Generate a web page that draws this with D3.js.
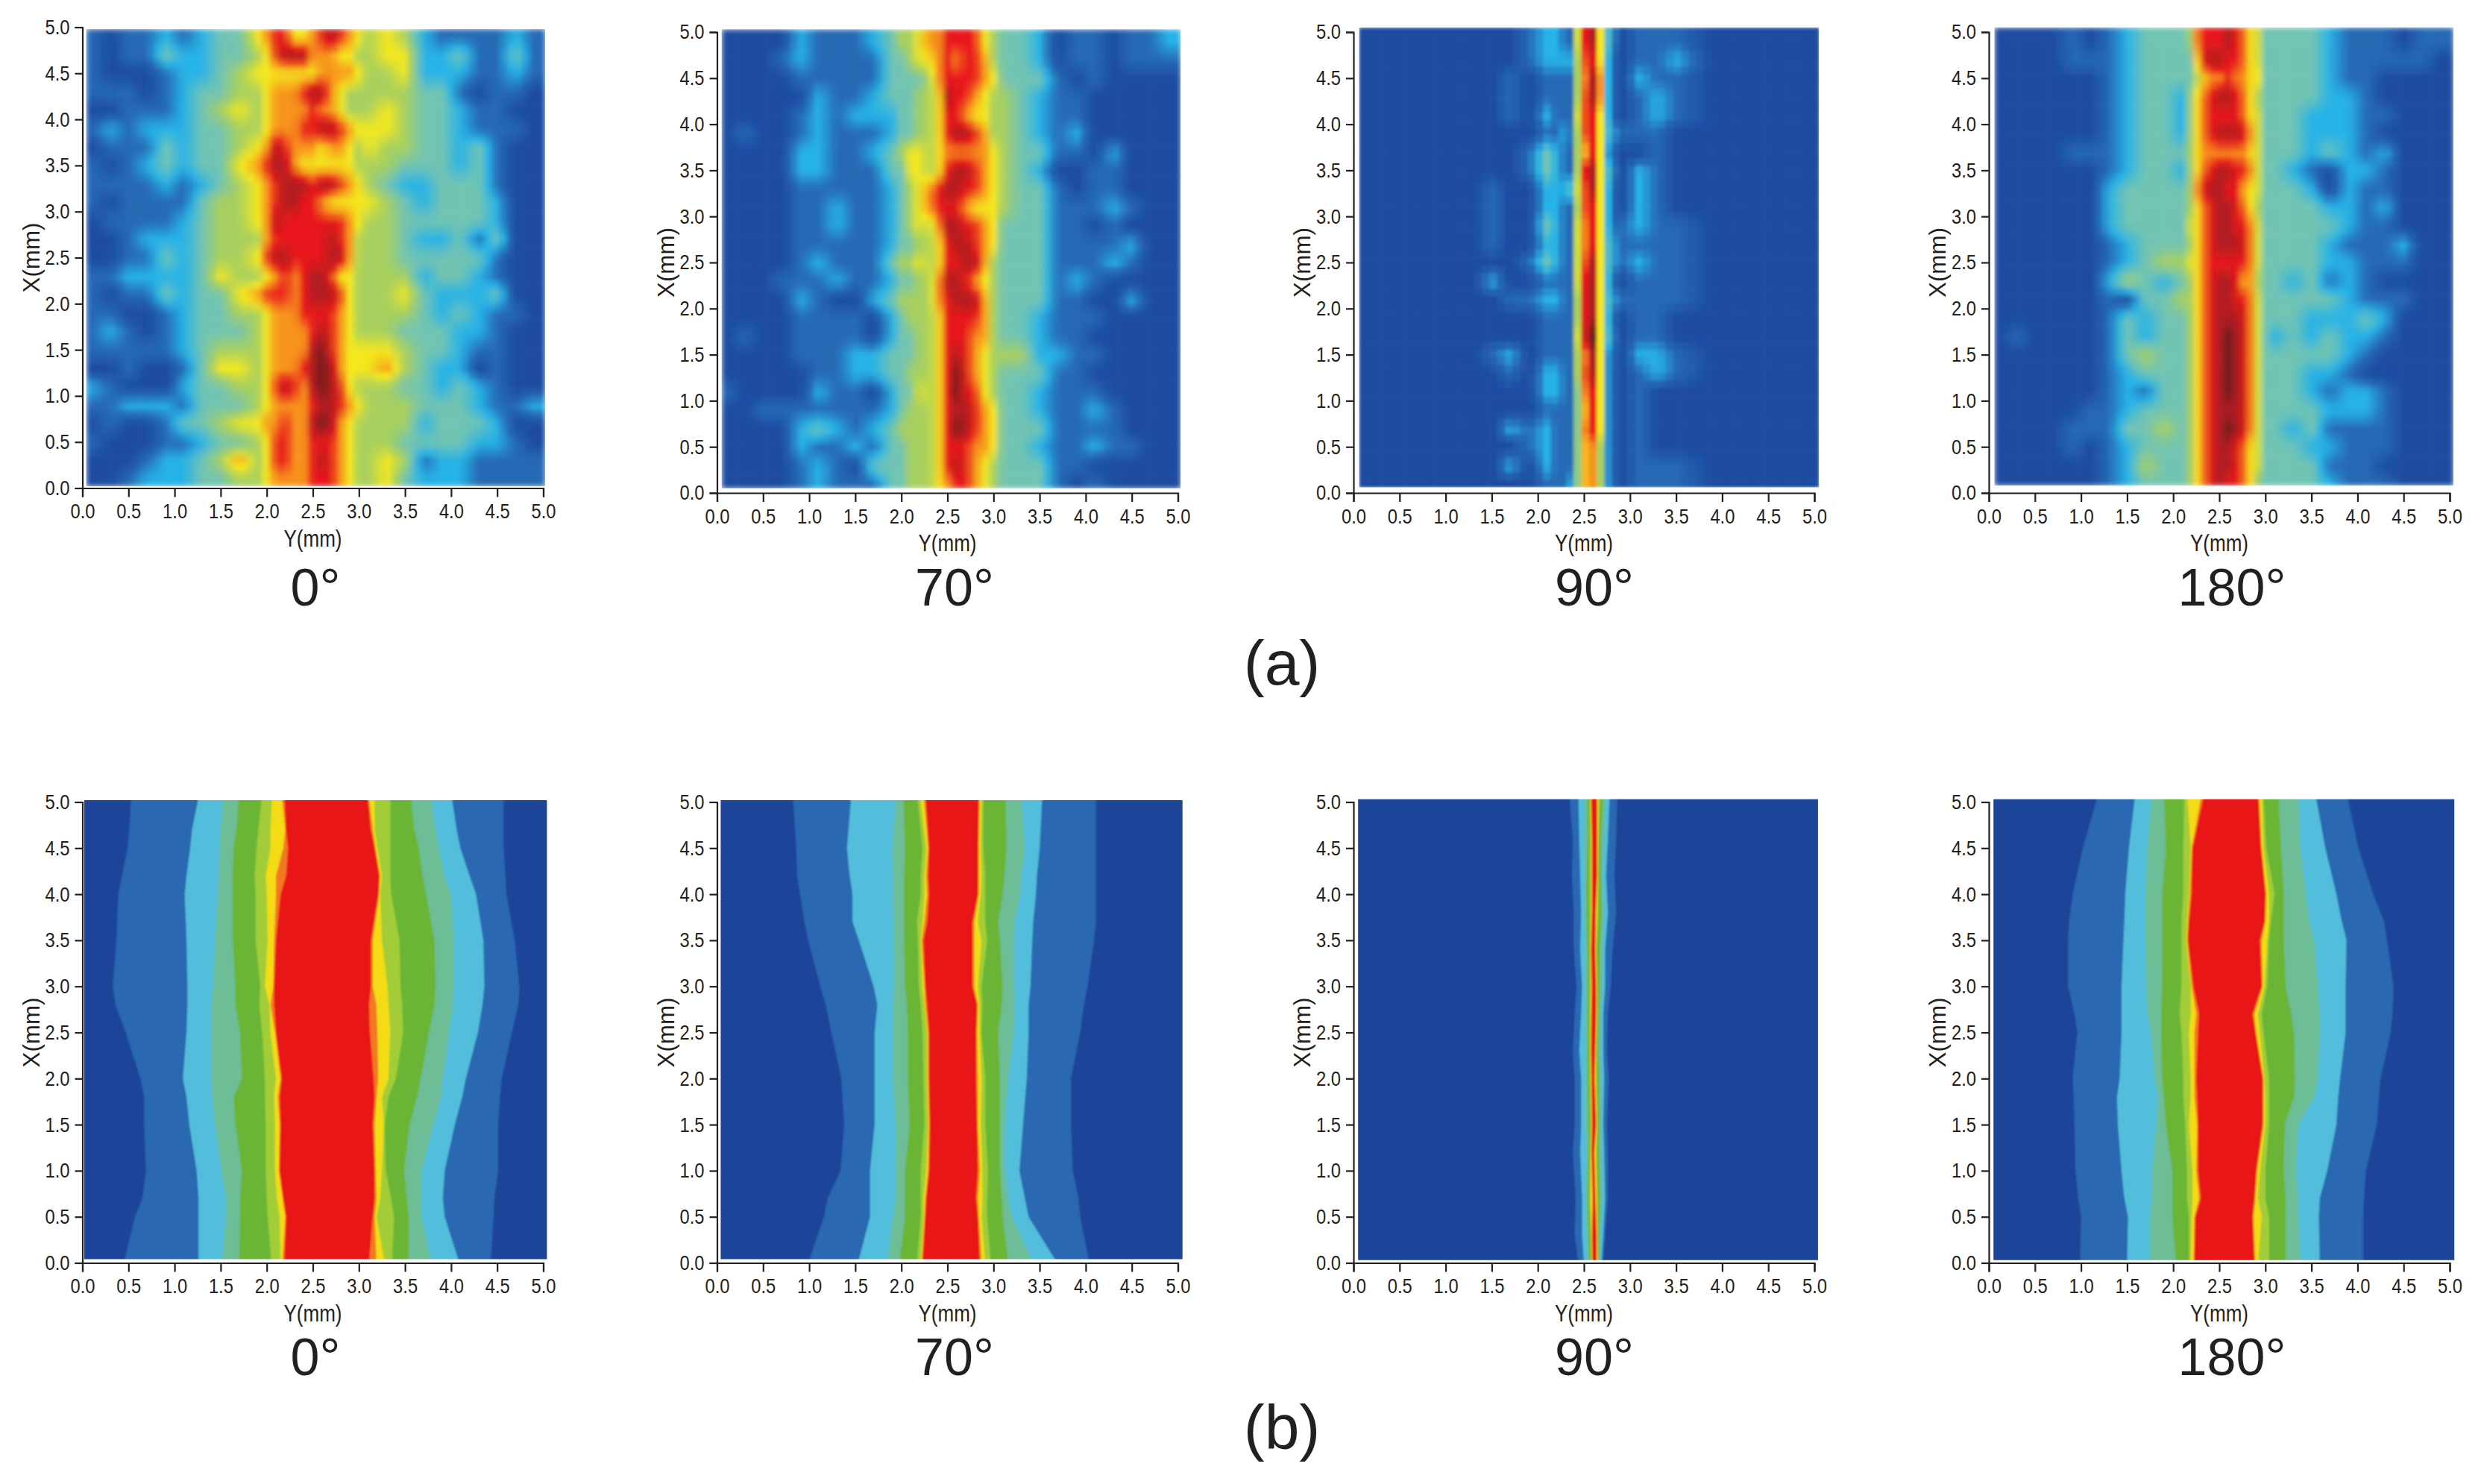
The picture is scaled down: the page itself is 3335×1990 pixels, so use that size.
<!DOCTYPE html>
<html lang="en">
<head>
<meta charset="UTF-8">
<title>Heat maps at 0, 70, 90 and 180 degrees</title>
<script src="https://d3js.org/d3.v7.min.js"></script>
<style>
  html, body { margin: 0; background: #fff; }
  text { fill: #231f20; font-family: "Liberation Sans", Arial, sans-serif; }
  .axis text { font-size: 28px; }
  .axis path, .axis line { stroke: #231f20; stroke-width: 2.2px; }
  .axis-title { font-size: 31px; text-anchor: middle; }
  .angle { font-size: 70px; text-anchor: middle; }
  .tag { font-size: 84px; text-anchor: middle; }
</style>
</head>
<body>
<svg id="chart" width="3335" height="1990"></svg>

<script>
const tickLabels = [0, 0.5, 1, 1.5, 2, 2.5, 3, 3.5, 4, 4.5, 5];
const angleLabels = ["0°", "70°", "90°", "180°"];
const rowTags = ["(a)", "(b)"];

// colour levels of the measured maps
const levels = [0, 1, 2, 3, 4, 5, 6, 7, 8, 9];
const levelColours = ["#1d4ba0", "#2569b4", "#28b3e7", "#72c4b2", "#a8d05e", "#f4e81f", "#f7941d", "#e8191c", "#b01b20", "#6a1a1e"];

// X value of every map row, top to bottom
const heatRowsX = [4.9, 4.7, 4.5, 4.3, 4.1, 3.9, 3.7, 3.5, 3.3, 3.1, 2.9, 2.7, 2.5, 2.3, 2.1, 1.9, 1.7, 1.5, 1.3, 1.1, 0.9, 0.7, 0.5, 0.3, 0.1];

// Y value of every map column (finer through the hot band)
const heatCols = [0.1, 0.3, 0.5, 0.7, 0.9, 1.1, 1.3, 1.5, 1.7, 1.9, 2.0, 2.1, 2.2, 2.3, 2.4, 2.5, 2.6, 2.7, 2.8, 2.9, 3.0, 3.1, 3.3, 3.5, 3.7, 3.9, 4.1, 4.3, 4.5, 4.7, 4.9];
const heatCols90 = [0.1, 0.5, 0.9, 1.3, 1.5, 1.7, 1.9, 2.1, 2.2, 2.3, 2.37, 2.41, 2.45, 2.49, 2.53, 2.6, 2.64, 2.68, 2.73, 2.8, 2.9, 3.1, 3.3, 3.5, 3.9, 4.3, 4.9];
const heatCols180 = [0.1, 0.3, 0.5, 0.7, 0.9, 1.1, 1.3, 1.5, 1.7, 1.9, 2.1, 2.2, 2.25, 2.3, 2.4, 2.5, 2.6, 2.7, 2.8, 2.85, 2.9, 2.95, 3.0, 3.1, 3.3, 3.5, 3.7, 3.9, 4.1, 4.3, 4.5, 4.7, 4.9];

const heat0 = [
  "1011212335 67755678765 4542111121",
  "1011322334 57888666554 4552231131",
  "1000122345 55555566665 4452221121",
  "1110123344 56667886544 4443310110",
  "0011123454 56666766544 4543321100",
  "1212223344 56667788765 5543321110",
  "0111323345 68766656654 5443323100",
  "1012323356 78865555554 4433323100",
  "1111212345 67888788765 4322333100",
  "1011113445 67887765555 5432333200",
  "0111123445 68777777765 4433333200",
  "0012223444 67777778764 4432231300",
  "0011323445 78877778864 4433333100",
  "1122223544 56767887554 4442332100",
  "1011323356 77767888754 4453222300",
  "1100123344 56667777654 4443232110",
  "1210123334 56666787654 4433322100",
  "1111123444 56666897655 5543321100",
  "0010013554 56667898655 5643220100",
  "2100023344 57876898754 4433232100",
  "1122213334 56666788765 4443332112",
  "0100133455 66766898654 4442333200",
  "1000112334 57766777654 4433332210",
  "0001223464 57766787654 4541221111",
  "0012223344 56666777654 4532221111"
];

const heat70 = [
  "0000211123 44566777754 3320110112",
  "0001211113 34556767764 3320110111",
  "0000111113 33346777765 3331010000",
  "0000021123 33445877654 4321100000",
  "0000121222 33445776554 4321100000",
  "0100121112 33445788764 4321200000",
  "0000221123 45545666665 4331102000",
  "0000221113 35545788765 4320011000",
  "0000111112 34567887765 4331011000",
  "0000112112 34567776555 4331112100",
  "0000112112 34546887765 3331101000",
  "0000111112 33445788765 3331111200",
  "0000121113 44545778864 3331112100",
  "0001112112 33446887654 3331210000",
  "0000210023 44446788864 3331100200",
  "0000111102 34445777764 3321110000",
  "0100111102 33445777664 3321100000",
  "0000111223 33445787654 4422110000",
  "0000011223 34445797654 3331100000",
  "1000021102 33545797754 3321110000",
  "0011111112 34445788765 3321121000",
  "0000232123 44445798765 3331111000",
  "0000211213 34445777665 3321121100",
  "0000121033 34445787654 3331100000",
  "0000121113 34445677654 3331010000"
];

const heat90 = [
  "0000001221 136778653 20111000",
  "0000001222 235677653 10112000",
  "0000010111 135578763 10211000",
  "0000010111 135678763 10121000",
  "0000010211 145677653 10121000",
  "0000000112 135677753 21110000",
  "0000001321 135567652 10010000",
  "0000001321 135688753 20210000",
  "0000100222 336678753 10210000",
  "0000100221 135677753 10210000",
  "0000100321 145577653 11211000",
  "0000100221 145577653 21111000",
  "0000001321 145678653 21211000",
  "0000200111 136688753 10111000",
  "0000011221 135688753 21111000",
  "0000000111 135688753 10110000",
  "0000000111 136789753 20110000",
  "0000120111 135578752 10221000",
  "0000010221 135678652 10121000",
  "0000000221 134577652 10100000",
  "0000000111 134567652 10100000",
  "0000021211 134577652 10100000",
  "0000001211 134566642 10100000",
  "0000020211 134566542 10111000",
  "0000000111 234566542 10111000"
];

const heat180 = [
  "00001012333 46777876554 33332111011",
  "00001112333 35788776554 33332111110",
  "00000012333 34566766555 33332110000",
  "00000012332 45678876544 33332210000",
  "00000012332 45677776554 33322211000",
  "00000012332 45678887654 33322210000",
  "00001112333 45666666554 33323212000",
  "00000012332 45678877654 33210221000",
  "00000023333 46788775554 33320211000",
  "00000023333 45678876544 33332212000",
  "00000023333 55678877654 33333211000",
  "00000012333 45678887654 33332111200",
  "00000012344 55677777654 33332211100",
  "00000024323 45678875644 33231210000",
  "00000010334 45678877654 33333211100",
  "00000013233 45678887654 33322232000",
  "01000013233 45678987654 32323221000",
  "00000013433 45678987654 33333210000",
  "00000012333 45678987654 33322100000",
  "00000012133 45678987654 33321221000",
  "00000112333 45678887654 33332221000",
  "00001113343 45678987654 33231111000",
  "00001012333 45678876554 33322111000",
  "00000012433 45678876554 33331110000",
  "00000012333 45678776543 33332111000"
];

// extent of each measured map on its axes: [Y from, Y to, X from, X to]
const heatExtent0 = [0.04, 5.02, 0.02, 4.98];
const heatExtent70 = [0.05, 5.03, 0.05, 5.03];
const heatExtent90 = [0.06, 5.05, 0.06, 5.05];
const heatExtent180 = [0.06, 5.04, 0.08, 5.05];
const contourExtent0 = [0.02, 5.04, 0.04, 5.02];
const contourExtent70 = [0.04, 5.05, 0.04, 5.02];
const contourExtent90 = [0.05, 5.04, 0.03, 5.03];
const contourExtent180 = [0.05, 5.05, 0.03, 5.03];

// simulated contour bands, outermost first
const bandColours = ["#2a67b1", "#52bedb", "#6dbd96", "#6ab535", "#a2cd39", "#f3dc16", "#f37821", "#e81518"];

// each row: X, then the left edge of the 8 bands, then their right edges from the inside out
const contour0 = [
  [5.1, .53, 1.27, 1.53, 1.70, 1.95, 2.06, 2.16, 2.19, 3.09, 3.10, 3.17, 3.34, 3.56, 3.78, 4.00, 4.57],
  [4.7, .51, 1.19, 1.50, 1.67, 1.91, 2.04, 2.20, 2.21, 3.13, 3.15, 3.17, 3.34, 3.60, 3.83, 4.06, 4.57],
  [4.5, .49, 1.17, 1.49, 1.64, 1.89, 2.04, 2.18, 2.23, 3.17, 3.18, 3.20, 3.34, 3.65, 3.87, 4.10, 4.57],
  [4.2, .43, 1.13, 1.48, 1.63, 1.87, 1.99, 2.10, 2.21, 3.22, 3.23, 3.25, 3.34, 3.69, 3.93, 4.20, 4.59],
  [4.0, .39, 1.11, 1.47, 1.63, 1.88, 2.00, 2.10, 2.15, 3.21, 3.22, 3.23, 3.35, 3.73, 4.00, 4.27, 4.60],
  [3.5, .37, 1.13, 1.44, 1.63, 1.88, 2.01, 2.08, 2.10, 3.13, 3.15, 3.25, 3.44, 3.82, 4.03, 4.35, 4.69],
  [3.0, .33, 1.14, 1.42, 1.66, 1.93, 1.98, 2.07, 2.08, 3.13, 3.15, 3.31, 3.45, 3.83, 4.03, 4.36, 4.74],
  [2.8, .36, 1.14, 1.40, 1.66, 1.92, 2.03, 2.04, 2.08, 3.11, 3.19, 3.32, 3.47, 3.82, 4.02, 4.34, 4.73],
  [2.5, .47, 1.13, 1.40, 1.71, 1.95, 2.04, 2.09, 2.10, 3.12, 3.20, 3.34, 3.48, 3.76, 3.98, 4.29, 4.66],
  [2.0, .63, 1.09, 1.40, 1.73, 1.98, 2.10, 2.15, 2.16, 3.16, 3.21, 3.32, 3.40, 3.67, 3.91, 4.16, 4.55],
  [1.8, .67, 1.13, 1.41, 1.64, 1.98, 2.08, 2.12, 2.14, 3.17, 3.19, 3.25, 3.32, 3.63, 3.89, 4.12, 4.53],
  [1.5, .67, 1.16, 1.44, 1.66, 1.99, 2.09, 2.14, 2.15, 3.15, 3.17, 3.27, 3.28, 3.55, 3.81, 4.04, 4.51],
  [1.0, .69, 1.24, 1.51, 1.73, 1.99, 2.09, 2.13, 2.14, 3.17, 3.18, 3.25, 3.29, 3.49, 3.68, 3.93, 4.51],
  [0.7, .65, 1.26, 1.56, 1.71, 2.00, 2.11, 2.17, 2.18, 3.17, 3.19, 3.23, 3.35, 3.52, 3.68, 3.91, 4.47],
  [0.5, .57, 1.26, 1.56, 1.71, 2.01, 2.14, 2.20, 2.21, 3.15, 3.17, 3.19, 3.38, 3.54, 3.68, 3.93, 4.46],
  [0.0, .45, 1.26, 1.51, 1.70, 2.05, 2.15, 2.17, 2.19, 3.11, 3.19, 3.28, 3.36, 3.54, 3.79, 4.09, 4.43]
];

const contour70 = [
  [5.1, .82, 1.46, 1.95, 2.02, 2.17, 2.20, 2.24, 2.26, 2.84, 2.85, 2.87, 2.89, 3.13, 3.30, 3.53, 4.11],
  [4.5, .86, 1.41, 1.90, 2.04, 2.23, 2.27, 2.29, 2.30, 2.83, 2.84, 2.86, 2.89, 3.14, 3.34, 3.50, 4.11],
  [4.2, .87, 1.44, 1.91, 2.03, 2.21, 2.25, 2.27, 2.29, 2.83, 2.84, 2.87, 2.91, 3.12, 3.30, 3.47, 4.11],
  [4.0, .90, 1.47, 1.91, 2.03, 2.21, 2.25, 2.28, 2.30, 2.83, 2.84, 2.86, 2.91, 3.10, 3.29, 3.46, 4.11],
  [3.7, .95, 1.47, 1.92, 2.03, 2.17, 2.23, 2.25, 2.28, 2.77, 2.79, 2.83, 2.91, 3.05, 3.23, 3.43, 4.11],
  [3.5, .99, 1.54, 1.92, 2.03, 2.18, 2.21, 2.22, 2.24, 2.77, 2.79, 2.87, 2.93, 3.07, 3.22, 3.42, 4.09],
  [3.0, 1.12, 1.70, 1.92, 2.04, 2.19, 2.23, 2.25, 2.26, 2.77, 2.79, 2.83, 2.87, 3.10, 3.22, 3.40, 4.02],
  [2.8, 1.18, 1.74, 1.91, 2.06, 2.21, 2.25, 2.26, 2.28, 2.82, 2.83, 2.85, 2.88, 3.09, 3.23, 3.38, 3.98],
  [2.5, 1.24, 1.71, 1.91, 2.07, 2.23, 2.28, 2.29, 2.30, 2.81, 2.82, 2.85, 2.87, 3.05, 3.22, 3.38, 3.94],
  [2.0, 1.35, 1.71, 1.91, 2.07, 2.24, 2.28, 2.29, 2.30, 2.81, 2.83, 2.87, 2.91, 3.07, 3.16, 3.36, 3.84],
  [1.5, 1.38, 1.71, 1.94, 2.09, 2.25, 2.29, 2.30, 2.31, 2.82, 2.83, 2.86, 2.91, 3.07, 3.12, 3.32, 3.84],
  [1.0, 1.34, 1.66, 1.94, 2.04, 2.21, 2.27, 2.29, 2.30, 2.83, 2.85, 2.88, 2.94, 3.07, 3.12, 3.28, 3.86],
  [0.7, 1.20, 1.66, 1.94, 2.04, 2.21, 2.24, 2.26, 2.27, 2.81, 2.83, 2.88, 2.93, 3.09, 3.16, 3.34, 3.92],
  [0.5, 1.16, 1.66, 1.91, 2.04, 2.21, 2.24, 2.25, 2.26, 2.83, 2.84, 2.87, 2.93, 3.10, 3.20, 3.38, 3.94],
  [0.0, .99, 1.53, 1.85, 1.98, 2.17, 2.21, 2.22, 2.23, 2.85, 2.87, 2.91, 2.97, 3.16, 3.43, 3.69, 4.04]
];

const contour90 = [
  [5.1, 2.34, 2.44, 2.51, 2.54, 2.56, 2.57, 2.575, 2.58, 2.64, 2.645, 2.655, 2.68, 2.71, 2.74, 2.78, 2.86],
  [4.6, 2.38, 2.45, 2.51, 2.54, 2.56, 2.58, 2.585, 2.59, 2.64, 2.645, 2.655, 2.66, 2.68, 2.72, 2.76, 2.85],
  [4.2, 2.37, 2.46, 2.51, 2.53, 2.56, 2.58, 2.585, 2.59, 2.64, 2.645, 2.65, 2.66, 2.68, 2.70, 2.74, 2.83],
  [3.8, 2.39, 2.47, 2.51, 2.53, 2.56, 2.58, 2.585, 2.59, 2.625, 2.63, 2.64, 2.66, 2.69, 2.72, 2.76, 2.85],
  [3.4, 2.39, 2.46, 2.52, 2.54, 2.56, 2.57, 2.575, 2.58, 2.62, 2.625, 2.63, 2.64, 2.67, 2.70, 2.73, 2.81],
  [3.0, 2.42, 2.48, 2.52, 2.54, 2.56, 2.575, 2.58, 2.59, 2.63, 2.635, 2.64, 2.65, 2.67, 2.70, 2.73, 2.79],
  [2.7, 2.40, 2.47, 2.52, 2.54, 2.56, 2.57, 2.58, 2.58, 2.63, 2.635, 2.64, 2.65, 2.66, 2.69, 2.71, 2.76],
  [2.3, 2.38, 2.45, 2.52, 2.54, 2.56, 2.57, 2.575, 2.58, 2.62, 2.625, 2.63, 2.64, 2.65, 2.68, 2.71, 2.75],
  [2.0, 2.40, 2.47, 2.52, 2.54, 2.56, 2.575, 2.58, 2.585, 2.61, 2.62, 2.63, 2.64, 2.66, 2.69, 2.72, 2.77],
  [1.5, 2.40, 2.47, 2.52, 2.55, 2.57, 2.58, 2.585, 2.59, 2.63, 2.635, 2.64, 2.65, 2.66, 2.69, 2.71, 2.75],
  [1.2, 2.38, 2.46, 2.53, 2.55, 2.565, 2.575, 2.58, 2.585, 2.61, 2.615, 2.63, 2.64, 2.66, 2.69, 2.72, 2.76],
  [0.7, 2.41, 2.48, 2.52, 2.54, 2.56, 2.57, 2.59, 2.60, 2.62, 2.63, 2.64, 2.65, 2.67, 2.70, 2.73, 2.76],
  [0.3, 2.40, 2.48, 2.53, 2.55, 2.57, 2.58, 2.585, 2.59, 2.635, 2.64, 2.645, 2.65, 2.66, 2.68, 2.71, 2.73],
  [0.0, 2.44, 2.50, 2.54, 2.56, 2.58, 2.585, 2.59, 2.595, 2.635, 2.64, 2.65, 2.655, 2.66, 2.68, 2.69, 2.71]
];

const contour180 = [
  [5.1, 1.19, 1.59, 1.77, 1.90, 2.12, 2.15, 2.31, 2.34, 2.92, 2.93, 2.96, 2.98, 3.14, 3.36, 3.54, 3.88],
  [4.5, 1.02, 1.52, 1.72, 1.92, 2.11, 2.19, 2.20, 2.21, 2.95, 2.96, 2.98, 3.01, 3.17, 3.38, 3.65, 4.01],
  [4.0, .91, 1.48, 1.70, 1.88, 2.11, 2.17, 2.18, 2.20, 3.00, 3.01, 3.04, 3.10, 3.20, 3.44, 3.77, 4.17],
  [3.7, .87, 1.47, 1.70, 1.88, 2.09, 2.15, 2.16, 2.17, 2.99, 3.00, 3.04, 3.06, 3.20, 3.48, 3.83, 4.29],
  [3.5, .86, 1.46, 1.70, 1.88, 2.09, 2.14, 2.15, 2.16, 2.94, 2.96, 3.02, 3.04, 3.20, 3.53, 3.88, 4.32],
  [3.0, .86, 1.44, 1.71, 1.88, 2.09, 2.19, 2.20, 2.22, 2.96, 2.97, 2.99, 3.02, 3.22, 3.57, 3.87, 4.39],
  [2.7, .93, 1.44, 1.72, 1.87, 2.07, 2.19, 2.25, 2.28, 2.86, 2.88, 2.92, 2.96, 3.28, 3.59, 3.87, 4.38],
  [2.5, .96, 1.44, 1.76, 1.87, 2.09, 2.17, 2.23, 2.27, 2.89, 2.90, 2.94, 2.98, 3.31, 3.59, 3.87, 4.36],
  [2.0, .91, 1.42, 1.80, 1.88, 2.11, 2.19, 2.23, 2.25, 2.97, 2.98, 2.99, 3.04, 3.32, 3.57, 3.81, 4.25],
  [1.8, .92, 1.39, 1.84, 1.90, 2.11, 2.19, 2.23, 2.26, 2.97, 2.98, 3.00, 3.04, 3.31, 3.53, 3.79, 4.23],
  [1.5, .93, 1.40, 1.82, 1.92, 2.13, 2.17, 2.26, 2.27, 2.97, 2.98, 3.00, 3.04, 3.21, 3.36, 3.77, 4.21],
  [1.0, .94, 1.44, 1.77, 1.99, 2.15, 2.21, 2.25, 2.27, 2.90, 2.91, 2.94, 3.00, 3.20, 3.33, 3.67, 4.09],
  [0.7, .97, 1.47, 1.77, 1.99, 2.15, 2.21, 2.28, 2.30, 2.88, 2.89, 2.92, 3.00, 3.22, 3.36, 3.59, 4.07],
  [0.5, 1.00, 1.51, 1.75, 1.99, 2.17, 2.20, 2.23, 2.24, 2.86, 2.87, 2.96, 3.04, 3.22, 3.36, 3.58, 4.06],
  [0.0, .99, 1.50, 1.75, 2.03, 2.17, 2.19, 2.22, 2.23, 2.88, 2.89, 2.92, 3.04, 3.22, 3.38, 3.59, 4.06]
];

const backgroundBlue = "#1c459a";

// page layout, in pixels
const axisSize = 618;
const panelLeft = [110.5, 961.5, 1815, 2667];
const rowTop = [36.5, 43, 43, 43];
const contourTop = 1075.5;
const angleX = [423, 1280, 2138, 2993];
const angleBaseline = [812, 1844];
const tagX = 1719;
const tagBaseline = [918, 1943];
const heatBlur = [3.5, 3.5, 2.2, 3.5];
// the original type is condensed, so labels are squeezed to its width
const tickTextWidth = 33;
const yTitleWidth = 78;
const xTitleWidth = 94;

const heatLayers = [
  { grid: heat0, cols: heatCols, extent: heatExtent0 },
  { grid: heat70, cols: heatCols, extent: heatExtent70 },
  { grid: heat90, cols: heatCols90, extent: heatExtent90 },
  { grid: heat180, cols: heatCols180, extent: heatExtent180 }
];
const contourLayers = [
  { rows: contour0, extent: contourExtent0 },
  { rows: contour70, extent: contourExtent70 },
  { rows: contour90, extent: contourExtent90 },
  { rows: contour180, extent: contourExtent180 }
];

const svg = d3.select("#chart");
const defs = svg.append("defs");

function addBlur(id, amount) {
  defs.append("filter").attr("id", id).attr("x", "-2%").attr("y", "-2%").attr("width", "104%").attr("height", "104%")
    .append("feGaussianBlur").attr("stdDeviation", amount);
}
heatBlur.forEach((b, i) => addBlur(`soft-${i}`, b));
addBlur("softer", 0.9);

const colour = d3.scaleLinear().domain(levels).range(levelColours).clamp(true);

function addFrame(left, top, angle, baseline) {
  const x = d3.scaleLinear().domain([0, 5]).range([left, left + axisSize]);
  const y = d3.scaleLinear().domain([0, 5]).range([top + axisSize, top]);
  return { x, y, angle, baseline };
}

function drawAxes(p) {
  const [x0, x1] = p.x.range();
  const [y0, y1] = p.y.range();
  const bottom = svg.append("g").attr("class", "axis")
    .attr("transform", `translate(0,${y0})`)
    .call(d3.axisBottom(p.x).tickValues(tickLabels).tickFormat(d3.format(".1f")).tickSize(12).tickPadding(9));
  const left = svg.append("g").attr("class", "axis")
    .attr("transform", `translate(${x0},0)`)
    .call(d3.axisLeft(p.y).tickValues(tickLabels).tickFormat(d3.format(".1f")).tickSize(10).tickPadding(7));
  bottom.selectAll("text").attr("textLength", tickTextWidth).attr("lengthAdjust", "spacingAndGlyphs");
  left.selectAll("text").attr("textLength", tickTextWidth).attr("lengthAdjust", "spacingAndGlyphs");
  svg.append("text").attr("class", "axis-title")
    .attr("x", (x0 + x1) / 2).attr("y", y0 + 78).text("Y(mm)")
    .attr("textLength", yTitleWidth).attr("lengthAdjust", "spacingAndGlyphs");
  svg.append("text").attr("class", "axis-title")
    .attr("transform", `translate(${x0 - 58},${(y0 + y1) / 2}) rotate(-90)`).text("X(mm)")
    .attr("textLength", xTitleWidth).attr("lengthAdjust", "spacingAndGlyphs");
  svg.append("text").attr("class", "angle")
    .attr("x", p.angle).attr("y", p.baseline).text(angleLabels[p.index]);
}

function drawClip(id, p, e) {
  defs.append("clipPath").attr("id", id).append("rect")
    .attr("x", p.x(e[0])).attr("width", p.x(e[1]) - p.x(e[0]))
    .attr("y", p.y(e[3])).attr("height", p.y(e[2]) - p.y(e[3]));
}

function drawHeat(layer, p, i) {
  const grid = layer.grid.map(r => r.replace(/ /g, "").split("").map(Number));
  const rowPos = d3.scaleLinear().domain(heatRowsX).range(d3.range(heatRowsX.length)).clamp(true);
  const rowScales = grid.map(r => d3.scaleLinear().domain(layer.cols).range(r).clamp(true));
  const e = layer.extent;
  // the map is stored on 0.1-0.2 mm steps and painted in smaller blocks
  const blocks = 60;
  const stepY = (e[1] - e[0]) / blocks;
  const stepX = (e[3] - e[2]) / blocks;
  const cells = [];
  for (let r = 0; r < blocks; r++) {
    for (let c = 0; c < blocks; c++) {
      const yv = e[0] + c * stepY;
      const xv = e[2] + r * stepX;
      const pos = rowPos(xv + stepX / 2);
      const r0 = Math.floor(pos);
      const r1 = Math.min(r0 + 1, grid.length - 1);
      const a = rowScales[r0](yv + stepY / 2);
      const b = rowScales[r1](yv + stepY / 2);
      cells.push({ yv, xv, v: a + (b - a) * (pos - r0) });
    }
  }
  drawClip(`heat-clip-${i}`, p, e);
  svg.append("g").attr("clip-path", `url(#heat-clip-${i})`)
    .append("g").attr("filter", `url(#soft-${i})`)
    .selectAll("rect").data(cells).join("rect")
    .attr("x", d => p.x(d.yv))
    .attr("y", d => p.y(d.xv + stepX))
    .attr("width", p.x(stepY) - p.x(0) + 0.6)
    .attr("height", p.y(0) - p.y(stepX) + 0.6)
    .attr("fill", d => colour(d.v));
}

function drawContour(layer, p, i) {
  const e = layer.extent;
  drawClip(`band-clip-${i}`, p, e);
  const g = svg.append("g").attr("clip-path", `url(#band-clip-${i})`)
    .append("g").attr("filter", "url(#softer)");
  g.append("rect")
    .attr("x", p.x(e[0]) - 5).attr("width", p.x(e[1]) - p.x(e[0]) + 10)
    .attr("y", p.y(e[3]) - 5).attr("height", p.y(e[2]) - p.y(e[3]) + 10)
    .attr("fill", backgroundBlue);
  bandColours.forEach((c, b) => {
    const area = d3.area()
      .y(d => p.y(d[0]))
      .x0(d => p.x(d[b + 1]))
      .x1(d => p.x(d[16 - b]));
    g.append("path").attr("d", area(layer.rows)).attr("fill", c);
  });
}

heatLayers.forEach((layer, i) => {
  const p = addFrame(panelLeft[i], rowTop[i], angleX[i], angleBaseline[0]);
  p.index = i;
  drawHeat(layer, p, i);
  drawAxes(p);
});

contourLayers.forEach((layer, i) => {
  const p = addFrame(panelLeft[i], contourTop, angleX[i], angleBaseline[1]);
  p.index = i;
  drawContour(layer, p, i);
  drawAxes(p);
});

rowTags.forEach((t, i) => {
  svg.append("text").attr("class", "tag").attr("x", tagX).attr("y", tagBaseline[i]).text(t);
});
</script>
</body>
</html>
